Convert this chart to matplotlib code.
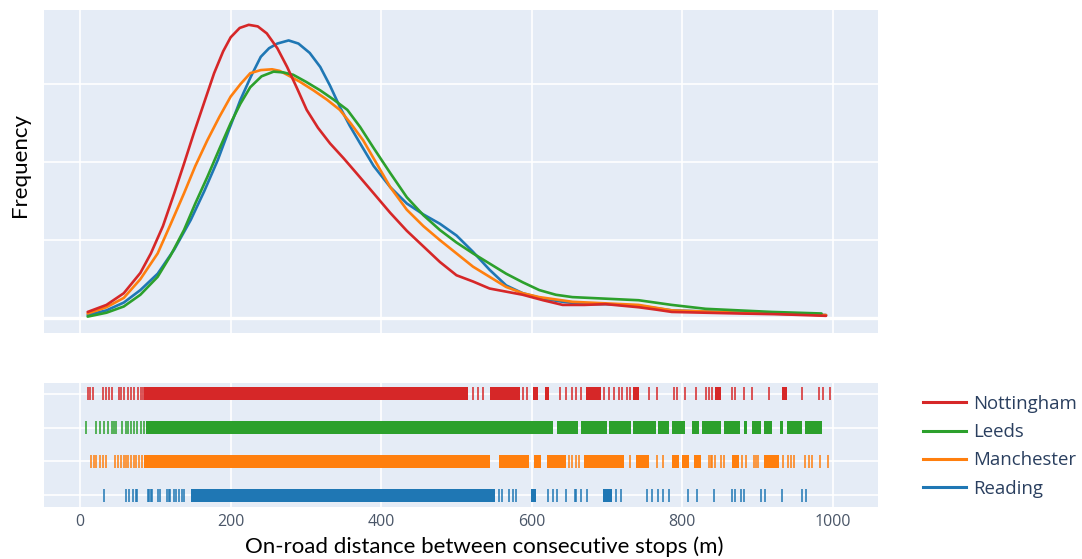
import matplotlib
matplotlib.use('Agg')
import matplotlib.pyplot as plt
from matplotlib.lines import Line2D

# ---------------- data ----------------
cities = ['Nottingham', 'Leeds', 'Manchester', 'Reading']
colors = ['#d62728', '#2ca02c', '#ff7f0e', '#1f77b4']
x_ticks = [0, 200, 400, 600, 800, 1000]
x_label = 'On-road distance between consecutive stops (m)'
y_label = 'Frequency'

# density curves (arbitrary frequency units)
nott_x = [10, 35, 58, 80, 94, 110, 125, 138, 151, 165, 178, 190, 200, 212, 224, 236, 248, 262,
          275, 288, 301, 316, 332, 350, 367, 390, 412, 434, 456, 478, 500, 522, 544, 566, 588,
          615, 641, 670, 698, 720, 742, 765, 786, 830, 875, 930, 991]
nott_y = [0.08, 0.17, 0.32, 0.58, 0.83, 1.18, 1.60, 1.98, 2.37, 2.77, 3.14, 3.42, 3.60, 3.72,
          3.76, 3.74, 3.65, 3.46, 3.22, 2.95, 2.67, 2.44, 2.24, 2.05, 1.86, 1.60, 1.35, 1.12,
          0.92, 0.72, 0.55, 0.47, 0.38, 0.34, 0.30, 0.23, 0.17, 0.17, 0.18, 0.16, 0.14, 0.11,
          0.08, 0.07, 0.06, 0.05, 0.03]

leeds_x = [10, 35, 58, 80, 103, 120, 138, 153, 169, 185, 200, 213, 226, 241, 257, 270, 283, 300,
           319, 337, 355, 372, 390, 412, 434, 456, 478, 500, 522, 544, 566, 588, 610, 632, 654,
           698, 742, 786, 831, 875, 919, 985]
leeds_y = [0.02, 0.07, 0.15, 0.30, 0.53, 0.80, 1.13, 1.47, 1.81, 2.17, 2.50, 2.75, 2.96, 3.10,
           3.16, 3.15, 3.12, 3.03, 2.92, 2.80, 2.67, 2.45, 2.18, 1.86, 1.55, 1.32, 1.13, 0.97,
           0.83, 0.70, 0.57, 0.46, 0.36, 0.30, 0.27, 0.25, 0.23, 0.17, 0.12, 0.10, 0.08, 0.06]

manc_x = [10, 35, 58, 80, 103, 120, 138, 153, 169, 185, 200, 213, 226, 240, 255, 265, 275, 292,
          310, 328, 345, 360, 376, 394, 412, 434, 456, 478, 500, 522, 544, 566, 588, 610, 654,
          698, 742, 786, 875, 991]
manc_y = [0.06, 0.14, 0.26, 0.50, 0.83, 1.20, 1.60, 1.95, 2.28, 2.58, 2.84, 3.00, 3.14, 3.18,
          3.19, 3.17, 3.12, 3.03, 2.92, 2.80, 2.67, 2.49, 2.28, 1.98, 1.68, 1.39, 1.18, 1.00,
          0.83, 0.66, 0.53, 0.40, 0.32, 0.27, 0.21, 0.19, 0.17, 0.10, 0.07, 0.04]

read_x = [10, 35, 58, 80, 103, 125, 147, 165, 183, 198, 213, 227, 240, 251, 262, 277, 290, 305,
          319, 332, 345, 358, 372, 390, 412, 434, 456, 478, 500, 522, 544, 566, 588, 615, 641,
          670, 698, 742, 786, 875, 991]
read_y = [0.04, 0.10, 0.20, 0.36, 0.57, 0.88, 1.26, 1.63, 2.03, 2.42, 2.80, 3.10, 3.35, 3.46,
          3.52, 3.56, 3.52, 3.40, 3.22, 2.98, 2.71, 2.47, 2.24, 1.95, 1.68, 1.47, 1.33, 1.21,
          1.06, 0.85, 0.62, 0.42, 0.32, 0.25, 0.21, 0.18, 0.18, 0.16, 0.10, 0.07, 0.04]

# rug: individual stop distances (sparse parts) and runs of contiguous ticks (dense parts)
nott_ticks = [11, 13, 17, 30, 34, 38, 42, 52, 54, 58, 63, 68, 71, 77, 81, 84, 522, 528, 535,
              588, 594, 637, 646, 654, 659, 665, 696, 703, 709, 716, 720, 727, 731, 756, 767,
              789, 793, 804, 818, 831, 835, 840, 866, 870, 882, 893, 915, 959, 981, 987, 996]
nott_runs = [(85, 515), (544, 584), (601, 608), (617, 623), (672, 692), (734, 743),
             (844, 851), (932, 939)]

leeds_ticks = [8, 21, 26, 32, 37, 42, 45, 48, 56, 61, 63, 68, 72, 76, 81, 85]
leeds_runs = [(87, 628), (634, 662), (666, 700), (702, 732), (734, 765), (768, 782),
              (786, 804), (813, 822), (826, 851), (855, 877), (882, 886), (892, 904),
              (908, 919), (930, 934), (939, 959), (963, 985)]

manc_ticks = [15, 18, 21, 26, 30, 34, 46, 50, 54, 58, 61, 64, 68, 71, 74, 78, 82, 650, 654,
              659, 663, 730, 767, 775, 835, 838, 840, 844, 851, 855, 879, 884, 895, 898, 901,
              934, 941, 945, 948, 963, 968, 972, 983, 994]
manc_runs = [(85, 544), (557, 597), (603, 612), (620, 646), (670, 723), (739, 756),
             (786, 795), (800, 809), (815, 825), (866, 875), (908, 928)]

read_ticks = [32, 61, 65, 70, 74, 76, 90, 92, 94, 96, 104, 106, 115, 118, 120, 125, 128, 132,
              135, 138, 557, 560, 570, 575, 579, 621, 628, 634, 646, 657, 659, 666, 674, 712,
              718, 753, 760, 768, 775, 782, 808, 819, 842, 866, 870, 878, 882, 904, 910, 932,
              959, 965]
read_runs = [(147, 551), (599, 606), (694, 707)]

curves = [(nott_x, nott_y), (leeds_x, leeds_y), (manc_x, manc_y), (read_x, read_y)]
rug_ticks = [nott_ticks, leeds_ticks, manc_ticks, read_ticks]
rug_runs = [nott_runs, leeds_runs, manc_runs, read_runs]

# ---------------- figure ----------------
BG = '#E5ECF6'
TICKC = '#4a5668'
W, H = 1082, 559
fig = plt.figure(figsize=(W / 100, H / 100), dpi=100)

def fr(x0, y0, x1, y1):
    return [x0 / W, 1 - y1 / H, (x1 - x0) / W, (y1 - y0) / H]

ax = fig.add_axes(fr(44, 10, 878, 333))
axr = fig.add_axes(fr(44, 383, 878, 507), sharex=ax)

for a in (ax, axr):
    a.set_facecolor(BG)
    for s in a.spines.values():
        s.set_visible(False)
    a.set_axisbelow(True)
    a.grid(True, color='white', linewidth=1.2)
    a.tick_params(length=0)

ax.set_xlim(-48, 1060)
ax.set_ylim(-0.19, 3.95)
ax.set_xticks(x_ticks)
ax.set_yticks([1, 2, 3])
ax.tick_params(labelbottom=False, labelleft=False)
ax.axhline(0, color='white', linewidth=2.4, zorder=1)

# draw order: Reading, Manchester, Leeds, Nottingham (last on top)
for i in [3, 2, 1, 0]:
    xs, ys = curves[i]
    ax.plot(xs, ys, color=colors[i], linewidth=1.9, solid_capstyle='round',
            solid_joinstyle='round', zorder=3)

# rug
rows = [3, 2, 1, 0]
half = 0.19
axr.set_ylim(-0.35, 3.32)
axr.set_yticks(rows)
axr.tick_params(labelleft=False)
axr.set_xticks(x_ticks)
axr.set_xticklabels([str(v) for v in x_ticks])
axr.tick_params(axis='x', labelsize=11.5, labelcolor=TICKC, pad=5)
for lab in axr.get_xticklabels():
    lab.set_family('Open Sans')
for i, r in enumerate(rows):
    axr.vlines(rug_ticks[i], r - half, r + half, color=colors[i], linewidth=1.1, zorder=3)
    axr.broken_barh([(s, e - s) for s, e in rug_runs[i]], (r - half, 2 * half),
                    facecolor=colors[i], edgecolor='none', zorder=3)

axr.set_xlabel(x_label, fontsize=16, family='Lato', color='black')
axr.xaxis.set_label_coords((484 - 44) / 834, -(547 - 507) / 124)
axr.xaxis.label.set_va('center')
fig.text(20 / W, 1 - 165 / H, y_label, rotation=90, fontsize=16, family='Lato',
         color='black', ha='center', va='center')

handles = [Line2D([0], [0], color=c, linewidth=2.2) for c in colors]
leg = fig.legend(handles, cities, loc='upper left', bbox_to_anchor=(923 / W, 1 - 395 / H),
                 frameon=False, borderaxespad=0, borderpad=0, handlelength=2.3,
                 handletextpad=0.42, labelspacing=0.55,
                 prop={'family': 'Open Sans', 'size': 13.4})
for t in leg.get_texts():
    t.set_color('#2a3f5f')

fig.savefig('out.png', dpi=100, facecolor='white')
